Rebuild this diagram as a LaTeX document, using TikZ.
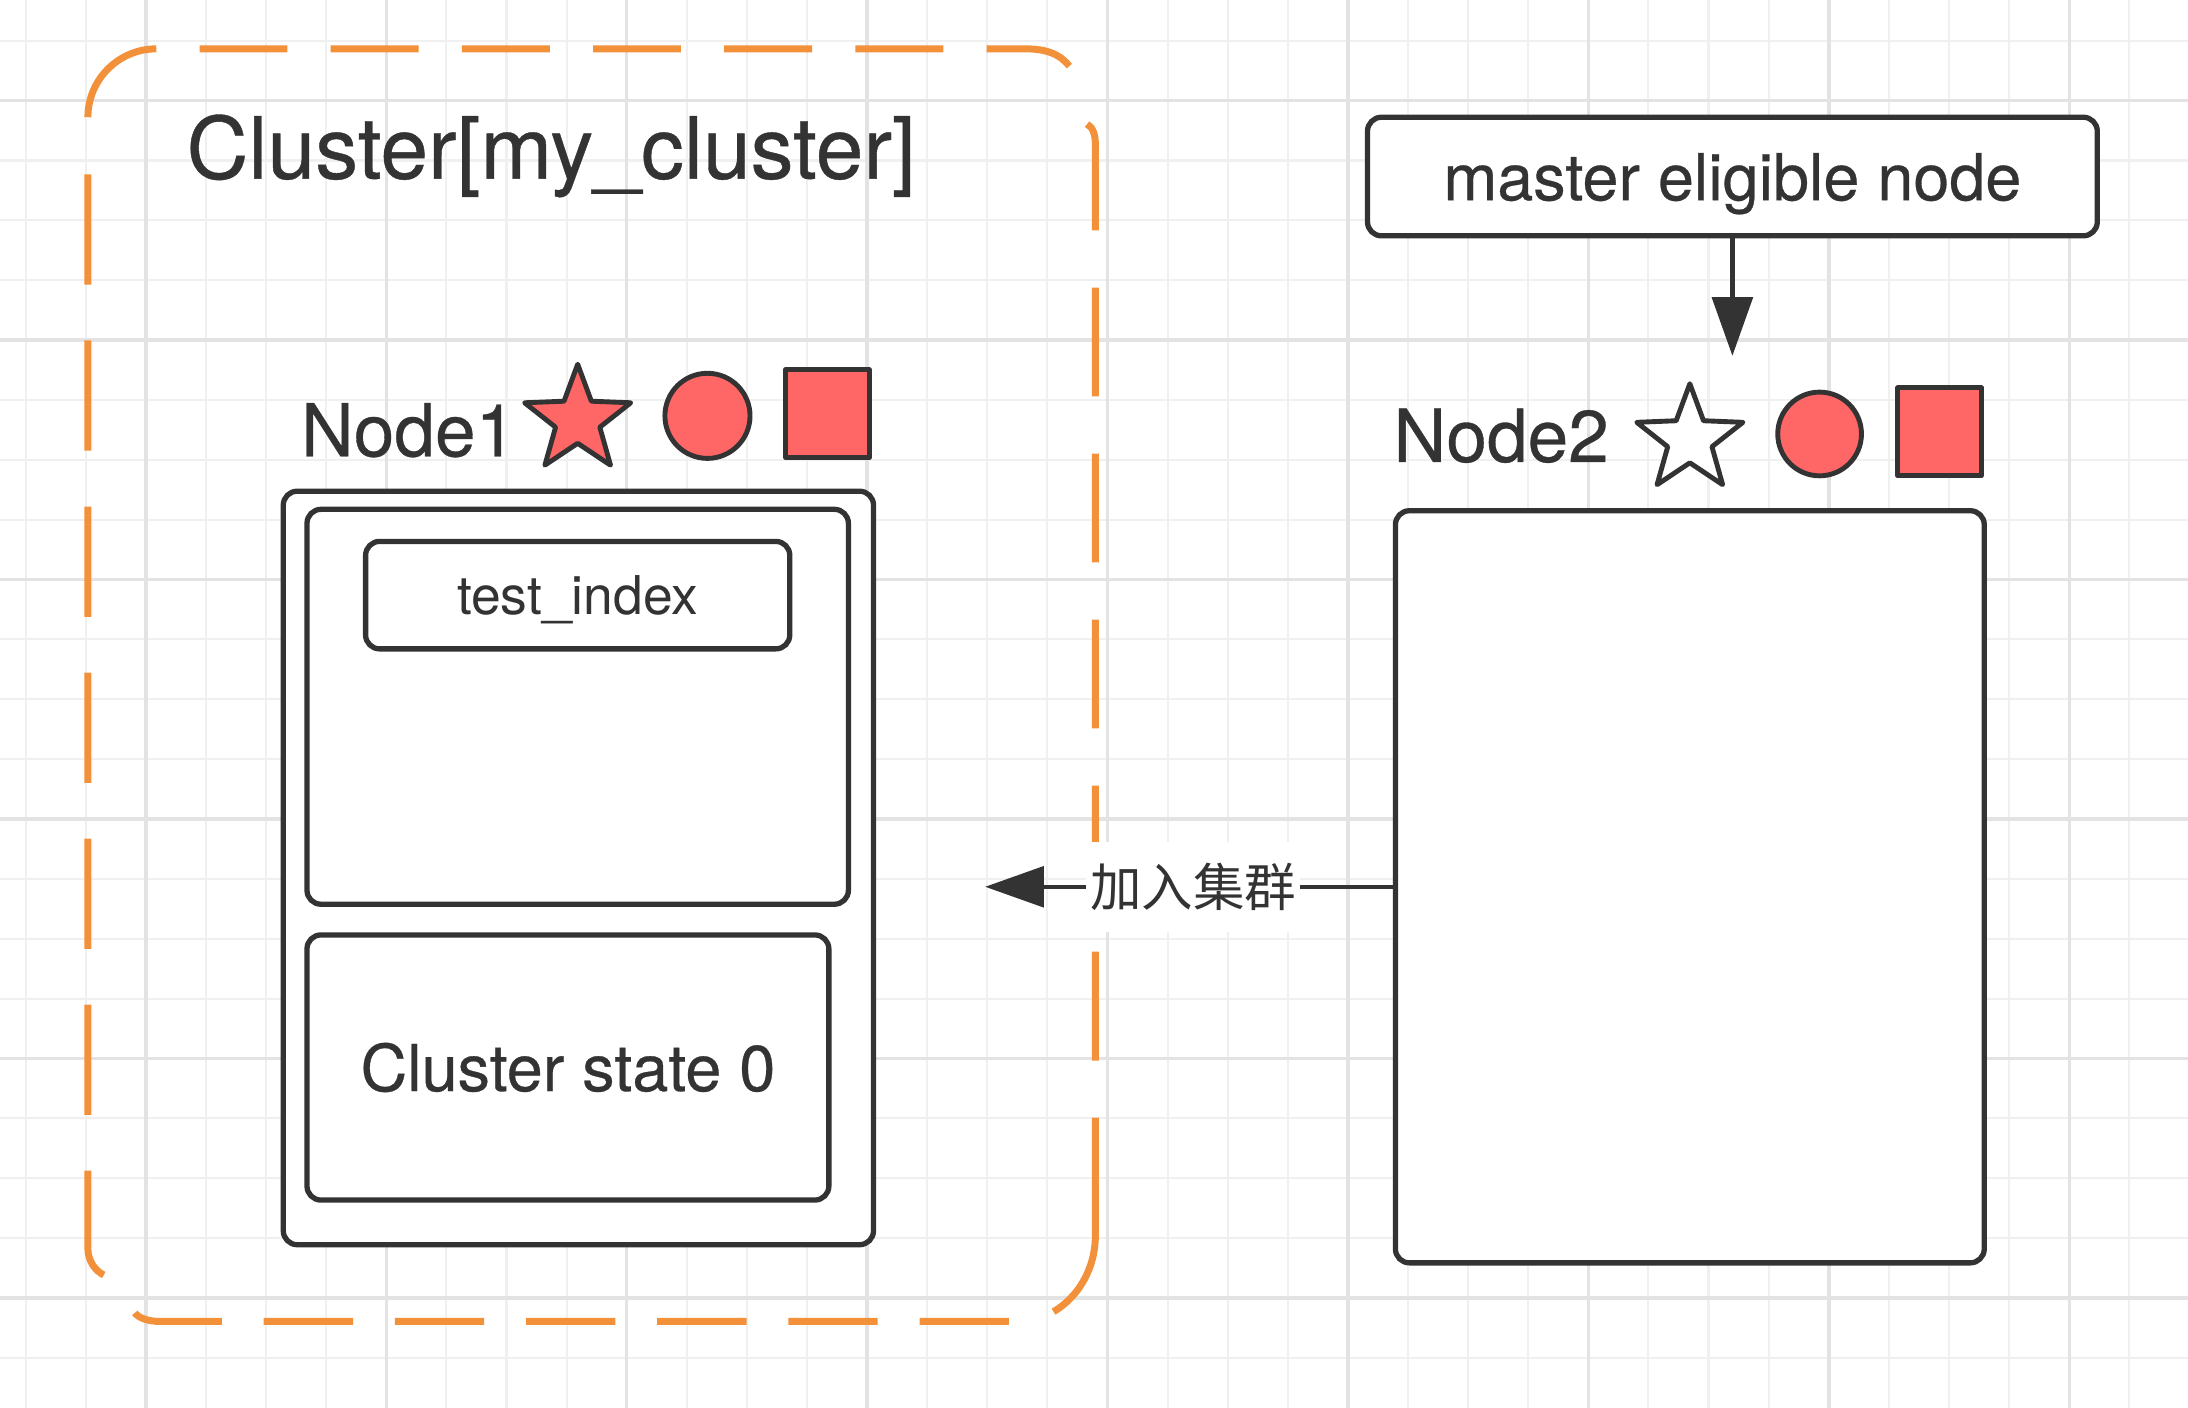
\documentclass[tikz,border=0pt]{standalone}
\usepackage{fontspec}
\setmainfont{TeX Gyre Heros}[FakeBold=0.45]
\newfontfamily\thinfont{TeX Gyre Heros}
\newfontfamily\cjkfont{Noto Sans CJK SC}
\usepackage{tikz}
\usetikzlibrary{arrows.meta, positioning, shapes.geometric}
\definecolor{ink}{HTML}{333333}
\definecolor{markred}{HTML}{FF6666}
\definecolor{clusterorange}{HTML}{F2913A}

\begin{document}
\begin{tikzpicture}[x=0.1mm, y=-0.1mm,
    gridthin/.style={draw=black!6, line width=0.15mm},
    gridbold/.style={draw=black!11, line width=0.25mm},
    clusterline/.style={draw=clusterorange, line width=0.5mm},
    box/.style={draw=ink, fill=white, line width=0.38mm, rounded corners=1mm, inner sep=0pt, text=ink},
    icon/.style={draw=ink, fill=markred, line width=0.35mm, line join=round, inner sep=0pt},
    arr/.style={draw=ink, line width=0.3mm, -{Triangle[length=4.2mm, width=2.9mm]}},
    namelabel/.style={text=ink, inner sep=0pt, font=\fontsize{14.9}{17}\selectfont}]
            \useasboundingbox (0,0) rectangle (1568,1009);
            \fill[white] (0,0) rectangle (1568,1009);
            \foreach \i in {0,...,36} {
                \draw[gridthin] ({18.4+43.07*\i},0) -- ++(0,1009);
            }
            \foreach \j in {0,...,22} {
                \draw[gridthin] (0,{29.2+42.9*\j}) -- ++(1568,0);
            }
            \foreach \i in {0,...,8} {
                \draw[gridbold] ({104.5+172.3*\i},0) -- ++(0,1009);
            }
            \foreach \j in {0,...,5} {
                \draw[gridbold] (0,{72.1+171.6*\j}) -- ++(1568,0);
            }
            \draw[clusterline] (63,84) .. controls (63,57) and (85,35) .. (112,35);
            \draw[clusterline, dash pattern=on 6.3mm off 3.1mm] (143,35) -- (735,35) .. controls (755,35) and (763,42) .. (769,51);
            \draw[clusterline, dash pattern=on 7.8mm off 4.1mm] (779,89) .. controls (783,91) and (785,96) .. (785,104) -- (785,770);
            \draw[clusterline] (785,801) -- (785,885) .. controls (785,910) and (772,930) .. (755,940);
            \draw[clusterline, dash pattern=on 6.4mm off 3mm] (723,947) -- (115,947) .. controls (105,947) and (97,944) .. (95,938);
            \draw[clusterline, dash pattern=on 7.9mm off 4mm] (63,125) -- (63,895) .. controls (63,903) and (68,911) .. (75,914);
            \node[anchor=base west, inner sep=0pt, text=ink, font=\fontsize{17.5}{21}\selectfont] (title) at (133,128) {Cluster[my\_cluster]};

            \node[namelabel, anchor=base west] (n1name) at (215,327) {Node1};
            \node[icon, star, star points=5, star point ratio=2.4, minimum size=8mm] (n1star) at (414,301) {};
            \node[icon, circle, minimum size=6.1mm] (n1circ) at (507,298) {};
            \node[icon, rectangle, minimum width=6mm, minimum height=6.3mm] (n1sq) at (593,296.5) {};
            \node[box, minimum width=42.3mm, minimum height=54mm] (n1) at (414.5,622) {};
            \node[box, minimum width=38.8mm, minimum height=28.3mm] (n1data) at (414,506.5) {};
            \node[box, minimum width=30.4mm, minimum height=7.7mm, text height=2.8mm, text depth=0mm, font=\thinfont\fontsize{10.9}{13}\selectfont] (idx) at (414,426.5) {test\_index};
            \node[box, minimum width=37.4mm, minimum height=19mm, font=\fontsize{13.2}{16}\selectfont] (n1state) at (407,765) {Cluster state 0};

            \node[box, minimum width=52.3mm, minimum height=8.5mm, text height=3.4mm, text depth=0mm, font=\fontsize{13.2}{16}\selectfont] (master) at (1241.5,126.5) {master eligible node};
            \node[namelabel, anchor=base west] (n2name) at (998,331) {Node2};
            \node[icon, fill=white, star, star points=5, star point ratio=2.4, minimum size=8mm] (n2star) at (1211,315) {};
            \node[icon, circle, minimum size=6mm] (n2circ) at (1304,311) {};
            \node[icon, rectangle, minimum width=6mm, minimum height=6.3mm] (n2sq) at (1390,309.5) {};
            \node[box, minimum width=42.2mm, minimum height=53.9mm] (n2) at (1211,635.5) {};

            \coordinate (n2tip) at (1241.5,255);
            \coordinate (jointip) at (706,635.5);
            \draw[arr] (master) -- (n2tip);
            \draw[arr] (n2) -- node[pos=0.49, fill=white, text=ink, inner xsep=0.3mm, inner ysep=1.5mm, font=\cjkfont\fontsize{10.5}{12}\selectfont] (joinlabel) {加入集群} (jointip);
        \end{tikzpicture}
\end{document}
